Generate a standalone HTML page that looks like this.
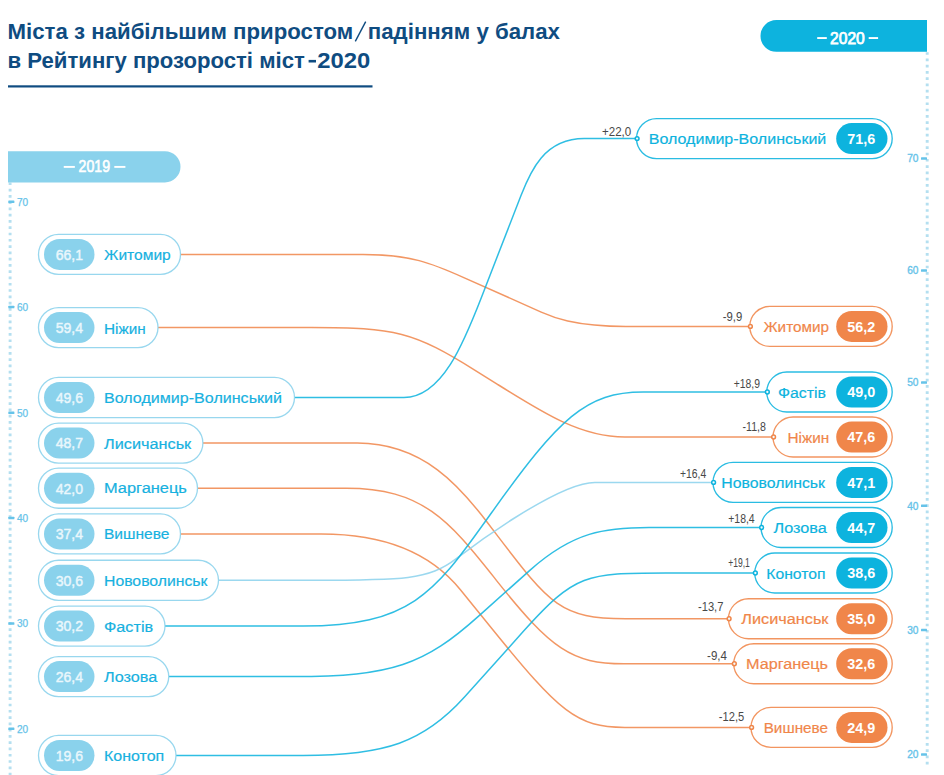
<!DOCTYPE html>
<html lang="uk"><head><meta charset="utf-8"><title>Рейтинг прозорості міст-2020</title>
<style>
html,body{margin:0;padding:0;background:#fff;}
body{width:944px;height:775px;overflow:hidden;font-family:"Liberation Sans",sans-serif;}
svg{display:block;font-family:"Liberation Sans",sans-serif;}
</style></head><body>
<svg width="944" height="775" viewBox="0 0 944 775">
<rect width="944" height="775" fill="#fff"/>

<text x="7.6" y="38.5" font-size="22" font-weight="bold" fill="#0f4c81" lengthAdjust="spacingAndGlyphs" textLength="345.6">Міста з найбільшим приростом</text>
<line x1="355.3" y1="41.4" x2="365.7" y2="21.6" stroke="#0f4c81" stroke-width="1.4"/>
<text x="367.8" y="38.5" font-size="22" font-weight="bold" fill="#0f4c81" lengthAdjust="spacingAndGlyphs" textLength="192.2">падінням у балах</text>
<text x="7.6" y="67.6" font-size="22" font-weight="bold" fill="#0f4c81" lengthAdjust="spacingAndGlyphs" textLength="297.2">в Рейтингу прозорості міст</text>
<rect x="308.6" y="59.9" width="7.4" height="2.6" fill="#0f4c81"/>
<text x="317.3" y="67.6" font-size="22" font-weight="bold" fill="#0f4c81" lengthAdjust="spacingAndGlyphs" textLength="53">2020</text>
<rect x="8" y="85.3" width="364.5" height="2.2" fill="#0f4c81"/>
<line x1="10.1" y1="182.4" x2="10.1" y2="775" stroke="#b4dff0" stroke-width="2.9" stroke-dasharray="2.7 3.58"/>
<line x1="927.2" y1="52.15" x2="927.2" y2="765" stroke="#b4dff0" stroke-width="2.9" stroke-dasharray="2.7 3.58"/>
<path d="M8 151.2H164.9a15.6 15.6 0 0 1 0 31.2H8Z" fill="#8ad2ec"/>
<text x="78.6" y="172.2" font-size="15.6" fill="#fff" stroke="#fff" stroke-width="0.6" textLength="31.4" lengthAdjust="spacingAndGlyphs">2019</text>
<rect x="63.75" y="165.95" width="11.1" height="1.9" fill="#fff"/><rect x="114.3" y="165.95" width="11.1" height="1.9" fill="#fff"/>
<path d="M927 20H776.4a15.9 15.9 0 0 0 0 31.8H927Z" fill="#0db3de"/>
<text x="830.1" y="43.7" font-size="15.6" fill="#fff" stroke="#fff" stroke-width="0.75" textLength="34.6" lengthAdjust="spacingAndGlyphs">2020</text>
<rect x="817.2" y="37.1" width="9.6" height="1.9" fill="#fff"/><rect x="868.7" y="37.1" width="9.4" height="1.9" fill="#fff"/>
<rect x="8.3" y="200.50" width="6.1" height="2.5" rx="0.6" fill="#66c3e9"/>
<text x="16.9" y="205.55" font-size="10.6" fill="#66c3e9" stroke="#66c3e9" stroke-width="0.25" textLength="11.2" lengthAdjust="spacingAndGlyphs">70</text>
<rect x="8.3" y="305.75" width="6.1" height="2.5" rx="0.6" fill="#66c3e9"/>
<text x="16.9" y="310.80" font-size="10.6" fill="#66c3e9" stroke="#66c3e9" stroke-width="0.25" textLength="11.2" lengthAdjust="spacingAndGlyphs">60</text>
<rect x="8.3" y="411.50" width="6.1" height="2.5" rx="0.6" fill="#66c3e9"/>
<text x="16.9" y="416.55" font-size="10.6" fill="#66c3e9" stroke="#66c3e9" stroke-width="0.25" textLength="11.2" lengthAdjust="spacingAndGlyphs">50</text>
<rect x="8.3" y="516.75" width="6.1" height="2.5" rx="0.6" fill="#66c3e9"/>
<text x="16.9" y="521.80" font-size="10.6" fill="#66c3e9" stroke="#66c3e9" stroke-width="0.25" textLength="11.2" lengthAdjust="spacingAndGlyphs">40</text>
<rect x="8.3" y="622.25" width="6.1" height="2.5" rx="0.6" fill="#66c3e9"/>
<text x="16.9" y="627.30" font-size="10.6" fill="#66c3e9" stroke="#66c3e9" stroke-width="0.25" textLength="11.2" lengthAdjust="spacingAndGlyphs">30</text>
<rect x="8.3" y="727.50" width="6.1" height="2.5" rx="0.6" fill="#66c3e9"/>
<text x="16.9" y="732.55" font-size="10.6" fill="#66c3e9" stroke="#66c3e9" stroke-width="0.25" textLength="11.2" lengthAdjust="spacingAndGlyphs">20</text>
<rect x="921" y="157.35" width="6" height="2.3" rx="0.5" fill="#66c3e9"/>
<text x="907.2" y="162.40" font-size="10.8" fill="#66c3e9" stroke="#66c3e9" stroke-width="0.35" textLength="11.3" lengthAdjust="spacingAndGlyphs">70</text>
<rect x="921" y="269.35" width="6" height="2.3" rx="0.5" fill="#66c3e9"/>
<text x="907.2" y="274.40" font-size="10.8" fill="#66c3e9" stroke="#66c3e9" stroke-width="0.35" textLength="11.3" lengthAdjust="spacingAndGlyphs">60</text>
<rect x="921" y="381.35" width="6" height="2.3" rx="0.5" fill="#66c3e9"/>
<text x="907.2" y="386.40" font-size="10.8" fill="#66c3e9" stroke="#66c3e9" stroke-width="0.35" textLength="11.3" lengthAdjust="spacingAndGlyphs">50</text>
<rect x="921" y="504.60" width="6" height="2.3" rx="0.5" fill="#66c3e9"/>
<text x="907.2" y="509.65" font-size="10.8" fill="#66c3e9" stroke="#66c3e9" stroke-width="0.35" textLength="11.3" lengthAdjust="spacingAndGlyphs">40</text>
<rect x="921" y="628.85" width="6" height="2.3" rx="0.5" fill="#66c3e9"/>
<text x="907.2" y="633.90" font-size="10.8" fill="#66c3e9" stroke="#66c3e9" stroke-width="0.35" textLength="11.3" lengthAdjust="spacingAndGlyphs">30</text>
<rect x="921" y="753.35" width="6" height="2.3" rx="0.5" fill="#66c3e9"/>
<text x="907.2" y="758.40" font-size="10.8" fill="#66c3e9" stroke="#66c3e9" stroke-width="0.35" textLength="11.3" lengthAdjust="spacingAndGlyphs">20</text>
<path d="M180.5 254.4H363.1C410.3 254.4 431.8 263.3 463.8 277.6L541.2 312.1C551.3 316.6 573.5 326.4 625.9 326.4H749.8" fill="none" stroke="#f0864a" stroke-width="1.5" stroke-opacity="0.86"/>
<path d="M158 327.6H311.1C395.5 327.6 413.1 331.4 476.7 371.3L497.1 384.1C544.5 413.8 581.2 437 624.8 437H773" fill="none" stroke="#f0864a" stroke-width="1.5" stroke-opacity="0.86"/>
<path d="M294.5 397.5H403.9C442.0 397.5 463.8 342.7 481.6 296.9L521.0 195.5C530.2 171.8 544.0 138.6 584.3 138.6H636.5" fill="none" stroke="#0db3de" stroke-width="1.5" stroke-opacity="0.86"/>
<path d="M202.9 443.1H357.2C423.9 443.1 461.2 488.1 487.0 522.0L497.2 535.4C550.2 605.0 561.1 618.75 625.6 618.75H728.5" fill="none" stroke="#f0864a" stroke-width="1.5" stroke-opacity="0.86"/>
<path d="M197.5 488.2H346.2C422.3 488.2 448.8 520.3 494.3 577.6L496.4 580.4C551.2 649.3 571.8 663.75 623.8 663.75H733.75" fill="none" stroke="#f0864a" stroke-width="1.5" stroke-opacity="0.86"/>
<path d="M180.5 533.9H321.4C409.3 533.9 444.9 570.5 460.4 589.7L491.4 628.0C560.0 712.7 576.8 727.4 624.8 727.4H751" fill="none" stroke="#f0864a" stroke-width="1.5" stroke-opacity="0.86"/>
<path d="M218.5 580.3H310.8C403.9 580.3 428.2 580.0 456.3 558.6L458.6 556.9C461.1 555.0 555.9 482.4 594.8 482.4H713.0" fill="none" stroke="#8ad2ec" stroke-width="1.5" stroke-opacity="0.86"/>
<path d="M165 626.1H303.1C409.6 626.1 434.4 592.6 484.9 522.0L491.9 512.3C559.5 417.7 586.1 392 643.2 392H766.75" fill="none" stroke="#0db3de" stroke-width="1.5" stroke-opacity="0.86"/>
<path d="M168.75 676.6H293.1C392.4 676.6 424.5 664.7 478.9 615.9L530.1 570.1C573.2 531.6 605.2 527.5 649.1 527.5H761" fill="none" stroke="#0db3de" stroke-width="1.5" stroke-opacity="0.86"/>
<path d="M176 755.5H303.1C385.0 755.5 423.9 742.3 464.5 697.1L523.2 631.6C575.3 573.5 586.1 573 665.8 573H754.75" fill="none" stroke="#0db3de" stroke-width="1.5" stroke-opacity="0.86"/>
<rect x="38.5" y="234.35" width="142.0" height="40.1" rx="20.05" fill="#fff" stroke="#8ad2ec" stroke-width="1.3" stroke-opacity="0.88"/>
<rect x="44" y="238.90" width="50.5" height="31.0" rx="15.5" fill="#8ad2ec"/>
<text x="69.4" y="259.70" font-size="15" fill="#eaf7fc" stroke="#eaf7fc" stroke-width="0.45" text-anchor="middle" textLength="27.3" lengthAdjust="spacingAndGlyphs">66,1</text>
<text x="104" y="259.90" font-size="15.5" fill="#17b1e0" stroke="#17b1e0" stroke-width="0.2" textLength="66.75" lengthAdjust="spacingAndGlyphs">Житомир</text>
<rect x="38.5" y="307.55" width="119.5" height="40.1" rx="20.05" fill="#fff" stroke="#8ad2ec" stroke-width="1.3" stroke-opacity="0.88"/>
<rect x="44" y="312.10" width="50.5" height="31.0" rx="15.5" fill="#8ad2ec"/>
<text x="69.4" y="332.90" font-size="15" fill="#eaf7fc" stroke="#eaf7fc" stroke-width="0.45" text-anchor="middle" textLength="27.3" lengthAdjust="spacingAndGlyphs">59,4</text>
<text x="104" y="333.90" font-size="15.5" fill="#17b1e0" stroke="#17b1e0" stroke-width="0.2" textLength="41.75" lengthAdjust="spacingAndGlyphs">Ніжин</text>
<rect x="38.5" y="377.45" width="256.0" height="40.1" rx="20.05" fill="#fff" stroke="#8ad2ec" stroke-width="1.3" stroke-opacity="0.88"/>
<rect x="44" y="382.00" width="50.5" height="31.0" rx="15.5" fill="#8ad2ec"/>
<text x="69.4" y="402.80" font-size="15" fill="#eaf7fc" stroke="#eaf7fc" stroke-width="0.45" text-anchor="middle" textLength="27.3" lengthAdjust="spacingAndGlyphs">49,6</text>
<text x="104" y="403.00" font-size="15.5" fill="#17b1e0" stroke="#17b1e0" stroke-width="0.2" textLength="178" lengthAdjust="spacingAndGlyphs">Володимир-Волинський</text>
<rect x="38.5" y="423.05" width="164.4" height="40.1" rx="20.05" fill="#fff" stroke="#8ad2ec" stroke-width="1.3" stroke-opacity="0.88"/>
<rect x="44" y="427.60" width="50.5" height="31.0" rx="15.5" fill="#8ad2ec"/>
<text x="69.4" y="448.40" font-size="15" fill="#eaf7fc" stroke="#eaf7fc" stroke-width="0.45" text-anchor="middle" textLength="27.3" lengthAdjust="spacingAndGlyphs">48,7</text>
<text x="104" y="448.60" font-size="15.5" fill="#17b1e0" stroke="#17b1e0" stroke-width="0.2" textLength="87.25" lengthAdjust="spacingAndGlyphs">Лисичанськ</text>
<rect x="38.5" y="468.15" width="159.0" height="40.1" rx="20.05" fill="#fff" stroke="#8ad2ec" stroke-width="1.3" stroke-opacity="0.88"/>
<rect x="44" y="472.70" width="50.5" height="31.0" rx="15.5" fill="#8ad2ec"/>
<text x="69.4" y="493.50" font-size="15" fill="#eaf7fc" stroke="#eaf7fc" stroke-width="0.45" text-anchor="middle" textLength="27.3" lengthAdjust="spacingAndGlyphs">42,0</text>
<text x="104" y="493.10" font-size="15.5" fill="#17b1e0" stroke="#17b1e0" stroke-width="0.2" textLength="82.9" lengthAdjust="spacingAndGlyphs">Марганець</text>
<rect x="38.5" y="513.85" width="142.0" height="40.1" rx="20.05" fill="#fff" stroke="#8ad2ec" stroke-width="1.3" stroke-opacity="0.88"/>
<rect x="44" y="518.40" width="50.5" height="31.0" rx="15.5" fill="#8ad2ec"/>
<text x="69.4" y="539.20" font-size="15" fill="#eaf7fc" stroke="#eaf7fc" stroke-width="0.45" text-anchor="middle" textLength="27.3" lengthAdjust="spacingAndGlyphs">37,4</text>
<text x="104" y="539.40" font-size="15.5" fill="#17b1e0" stroke="#17b1e0" stroke-width="0.2" textLength="65.5" lengthAdjust="spacingAndGlyphs">Вишневе</text>
<rect x="38.5" y="560.25" width="180.0" height="40.1" rx="20.05" fill="#fff" stroke="#8ad2ec" stroke-width="1.3" stroke-opacity="0.88"/>
<rect x="44" y="564.80" width="50.5" height="31.0" rx="15.5" fill="#8ad2ec"/>
<text x="69.4" y="585.60" font-size="15" fill="#eaf7fc" stroke="#eaf7fc" stroke-width="0.45" text-anchor="middle" textLength="27.3" lengthAdjust="spacingAndGlyphs">30,6</text>
<text x="104" y="585.80" font-size="15.5" fill="#17b1e0" stroke="#17b1e0" stroke-width="0.2" textLength="103.5" lengthAdjust="spacingAndGlyphs">Нововолинськ</text>
<rect x="38.5" y="606.05" width="126.5" height="40.1" rx="20.05" fill="#fff" stroke="#8ad2ec" stroke-width="1.3" stroke-opacity="0.88"/>
<rect x="44" y="610.60" width="50.5" height="31.0" rx="15.5" fill="#8ad2ec"/>
<text x="69.4" y="631.40" font-size="15" fill="#eaf7fc" stroke="#eaf7fc" stroke-width="0.45" text-anchor="middle" textLength="27.3" lengthAdjust="spacingAndGlyphs">30,2</text>
<text x="104" y="631.60" font-size="15.5" fill="#17b1e0" stroke="#17b1e0" stroke-width="0.2" textLength="49.099999999999994" lengthAdjust="spacingAndGlyphs">Фастів</text>
<rect x="38.5" y="656.55" width="130.25" height="40.1" rx="20.05" fill="#fff" stroke="#8ad2ec" stroke-width="1.3" stroke-opacity="0.88"/>
<rect x="44" y="661.10" width="50.5" height="31.0" rx="15.5" fill="#8ad2ec"/>
<text x="69.4" y="681.90" font-size="15" fill="#eaf7fc" stroke="#eaf7fc" stroke-width="0.45" text-anchor="middle" textLength="27.3" lengthAdjust="spacingAndGlyphs">26,4</text>
<text x="104" y="682.10" font-size="15.5" fill="#17b1e0" stroke="#17b1e0" stroke-width="0.2" textLength="53.25" lengthAdjust="spacingAndGlyphs">Лозова</text>
<rect x="38.5" y="735.45" width="137.5" height="40.1" rx="20.05" fill="#fff" stroke="#8ad2ec" stroke-width="1.3" stroke-opacity="0.88"/>
<rect x="44" y="740.00" width="50.5" height="31.0" rx="15.5" fill="#8ad2ec"/>
<text x="69.4" y="760.80" font-size="15" fill="#eaf7fc" stroke="#eaf7fc" stroke-width="0.45" text-anchor="middle" textLength="27.3" lengthAdjust="spacingAndGlyphs">19,6</text>
<text x="104" y="761.00" font-size="15.5" fill="#17b1e0" stroke="#17b1e0" stroke-width="0.2" textLength="60.25" lengthAdjust="spacingAndGlyphs">Конотоп</text>
<rect x="636.5" y="118.60" width="255.70000000000005" height="40" rx="20" fill="#fff" stroke="#0db3de" stroke-width="1.35" stroke-opacity="0.88"/>
<rect x="836.2" y="123.10" width="51.3" height="31.0" rx="15.5" fill="#0db3de"/>
<text x="861.2" y="143.90" font-size="15" font-weight="bold" fill="#fff" text-anchor="middle" textLength="28" lengthAdjust="spacingAndGlyphs">71,6</text>
<text x="648.75" y="144.20" font-size="15.5" fill="#0db3de" stroke="#0db3de" stroke-width="0.2" textLength="177.54999999999995" lengthAdjust="spacingAndGlyphs">Володимир-Волинський</text>
<circle cx="637.1" cy="138.6" r="1.9" fill="#f2fbfe" stroke="#0db3de" stroke-width="1.5"/>
<text x="602" y="136.25" font-size="12.2" fill="#484848" textLength="29.25" lengthAdjust="spacingAndGlyphs">+22,0</text>
<rect x="749.8" y="306.40" width="142.4000000000001" height="40" rx="20" fill="#fff" stroke="#f0864a" stroke-width="1.35" stroke-opacity="0.88"/>
<rect x="836.2" y="310.90" width="51.3" height="31.0" rx="15.5" fill="#f0864a"/>
<text x="861.2" y="331.70" font-size="15" font-weight="bold" fill="#fff" text-anchor="middle" textLength="28" lengthAdjust="spacingAndGlyphs">56,2</text>
<text x="763.5" y="332.00" font-size="15.5" fill="#f0864a" stroke="#f0864a" stroke-width="0.2" textLength="65.5" lengthAdjust="spacingAndGlyphs">Житомир</text>
<circle cx="750.4" cy="326.4" r="1.9" fill="#f2fbfe" stroke="#f0864a" stroke-width="1.5"/>
<text x="722.75" y="321" font-size="12.2" fill="#484848" textLength="19.5" lengthAdjust="spacingAndGlyphs">-9,9</text>
<rect x="766.75" y="372.00" width="125.45000000000005" height="40" rx="20" fill="#fff" stroke="#0db3de" stroke-width="1.35" stroke-opacity="0.88"/>
<rect x="836.2" y="376.50" width="51.3" height="31.0" rx="15.5" fill="#0db3de"/>
<text x="861.2" y="397.30" font-size="15" font-weight="bold" fill="#fff" text-anchor="middle" textLength="28" lengthAdjust="spacingAndGlyphs">49,0</text>
<text x="778" y="397.60" font-size="15.5" fill="#0db3de" stroke="#0db3de" stroke-width="0.2" textLength="48" lengthAdjust="spacingAndGlyphs">Фастів</text>
<circle cx="767.35" cy="392" r="1.9" fill="#f2fbfe" stroke="#0db3de" stroke-width="1.5"/>
<text x="733.75" y="387.75" font-size="12.2" fill="#484848" textLength="26.25" lengthAdjust="spacingAndGlyphs">+18,9</text>
<rect x="773" y="417.00" width="119.20000000000005" height="40" rx="20" fill="#fff" stroke="#f0864a" stroke-width="1.35" stroke-opacity="0.88"/>
<rect x="836.2" y="421.50" width="51.3" height="31.0" rx="15.5" fill="#f0864a"/>
<text x="861.2" y="442.30" font-size="15" font-weight="bold" fill="#fff" text-anchor="middle" textLength="28" lengthAdjust="spacingAndGlyphs">47,6</text>
<text x="787.5" y="442.60" font-size="15.5" fill="#f0864a" stroke="#f0864a" stroke-width="0.2" textLength="41.75" lengthAdjust="spacingAndGlyphs">Ніжин</text>
<circle cx="773.6" cy="437" r="1.9" fill="#f2fbfe" stroke="#f0864a" stroke-width="1.5"/>
<text x="742.5" y="431.25" font-size="12.2" fill="#484848" textLength="23.399999999999977" lengthAdjust="spacingAndGlyphs">-11,8</text>
<rect x="713.0" y="462.40" width="179.20000000000005" height="40" rx="20" fill="#fff" stroke="#0db3de" stroke-width="1.35" stroke-opacity="0.88"/>
<rect x="836.2" y="466.90" width="51.3" height="31.0" rx="15.5" fill="#0db3de"/>
<text x="861.2" y="487.70" font-size="15" font-weight="bold" fill="#fff" text-anchor="middle" textLength="28" lengthAdjust="spacingAndGlyphs">47,1</text>
<text x="721.3" y="488.00" font-size="15.5" fill="#0db3de" stroke="#0db3de" stroke-width="0.2" textLength="103.70000000000005" lengthAdjust="spacingAndGlyphs">Нововолинськ</text>
<circle cx="713.6" cy="482.4" r="1.9" fill="#f2fbfe" stroke="#0db3de" stroke-width="1.5"/>
<text x="680" y="478" font-size="12.2" fill="#484848" textLength="26.25" lengthAdjust="spacingAndGlyphs">+16,4</text>
<rect x="761" y="507.50" width="131.20000000000005" height="40" rx="20" fill="#fff" stroke="#0db3de" stroke-width="1.35" stroke-opacity="0.88"/>
<rect x="836.2" y="512.00" width="51.3" height="31.0" rx="15.5" fill="#0db3de"/>
<text x="861.2" y="532.80" font-size="15" font-weight="bold" fill="#fff" text-anchor="middle" textLength="28" lengthAdjust="spacingAndGlyphs">44,7</text>
<text x="773.5" y="533.10" font-size="15.5" fill="#0db3de" stroke="#0db3de" stroke-width="0.2" textLength="53.25" lengthAdjust="spacingAndGlyphs">Лозова</text>
<circle cx="761.6" cy="527.5" r="1.9" fill="#f2fbfe" stroke="#0db3de" stroke-width="1.5"/>
<text x="728.2" y="523.1" font-size="12.2" fill="#484848" textLength="26.5" lengthAdjust="spacingAndGlyphs">+18,4</text>
<rect x="754.75" y="553.00" width="137.45000000000005" height="40" rx="20" fill="#fff" stroke="#0db3de" stroke-width="1.35" stroke-opacity="0.88"/>
<rect x="836.2" y="557.50" width="51.3" height="31.0" rx="15.5" fill="#0db3de"/>
<text x="861.2" y="578.30" font-size="15" font-weight="bold" fill="#fff" text-anchor="middle" textLength="28" lengthAdjust="spacingAndGlyphs">38,6</text>
<text x="766.25" y="578.60" font-size="15.5" fill="#0db3de" stroke="#0db3de" stroke-width="0.2" textLength="59.25" lengthAdjust="spacingAndGlyphs">Конотоп</text>
<circle cx="755.35" cy="573" r="1.9" fill="#f2fbfe" stroke="#0db3de" stroke-width="1.5"/>
<text x="728.2" y="567" font-size="12.2" fill="#484848" textLength="21.59999999999991" lengthAdjust="spacingAndGlyphs">+19,1</text>
<rect x="728.5" y="598.75" width="163.70000000000005" height="40" rx="20" fill="#fff" stroke="#f0864a" stroke-width="1.35" stroke-opacity="0.88"/>
<rect x="836.2" y="603.25" width="51.3" height="31.0" rx="15.5" fill="#f0864a"/>
<text x="861.2" y="624.05" font-size="15" font-weight="bold" fill="#fff" text-anchor="middle" textLength="28" lengthAdjust="spacingAndGlyphs">35,0</text>
<text x="741.25" y="624.35" font-size="15.5" fill="#f0864a" stroke="#f0864a" stroke-width="0.2" textLength="87.25" lengthAdjust="spacingAndGlyphs">Лисичанськ</text>
<circle cx="729.1" cy="618.75" r="1.9" fill="#f2fbfe" stroke="#f0864a" stroke-width="1.5"/>
<text x="698" y="611.25" font-size="12.2" fill="#484848" textLength="25.399999999999977" lengthAdjust="spacingAndGlyphs">-13,7</text>
<rect x="733.75" y="643.75" width="158.45000000000005" height="40" rx="20" fill="#fff" stroke="#f0864a" stroke-width="1.35" stroke-opacity="0.88"/>
<rect x="836.2" y="648.25" width="51.3" height="31.0" rx="15.5" fill="#f0864a"/>
<text x="861.2" y="669.05" font-size="15" font-weight="bold" fill="#fff" text-anchor="middle" textLength="28" lengthAdjust="spacingAndGlyphs">32,6</text>
<text x="746" y="669.35" font-size="15.5" fill="#f0864a" stroke="#f0864a" stroke-width="0.2" textLength="82" lengthAdjust="spacingAndGlyphs">Марганець</text>
<circle cx="734.35" cy="663.75" r="1.9" fill="#f2fbfe" stroke="#f0864a" stroke-width="1.5"/>
<text x="707.1" y="659.6" font-size="12.2" fill="#484848" textLength="19.899999999999977" lengthAdjust="spacingAndGlyphs">-9,4</text>
<rect x="751" y="707.40" width="141.20000000000005" height="40" rx="20" fill="#fff" stroke="#f0864a" stroke-width="1.35" stroke-opacity="0.88"/>
<rect x="836.2" y="711.90" width="51.3" height="31.0" rx="15.5" fill="#f0864a"/>
<text x="861.2" y="732.70" font-size="15" font-weight="bold" fill="#fff" text-anchor="middle" textLength="28" lengthAdjust="spacingAndGlyphs">24,9</text>
<text x="763.7" y="733.00" font-size="15.5" fill="#f0864a" stroke="#f0864a" stroke-width="0.2" textLength="64.29999999999995" lengthAdjust="spacingAndGlyphs">Вишневе</text>
<circle cx="751.6" cy="727.4" r="1.9" fill="#f2fbfe" stroke="#f0864a" stroke-width="1.5"/>
<text x="718.8" y="720.6" font-size="12.2" fill="#484848" textLength="25.40000000000009" lengthAdjust="spacingAndGlyphs">-12,5</text>
</svg></body></html>
